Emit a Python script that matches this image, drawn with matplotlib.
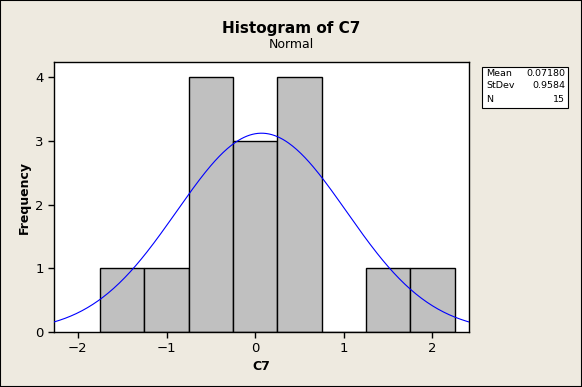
import numpy as np
import matplotlib
matplotlib.use("Agg")
import matplotlib.pyplot as plt

# histogram bins (C7)
bin_edges = [-1.75, -1.25, -0.75, -0.25, 0.25, 0.75, 1.25, 1.75, 2.25]
counts = [1, 1, 4, 3, 4, 0, 1, 1]
mean = 0.07180
stdev = 0.9584
n = 15

bg = "#EEEAE0"

fig = plt.figure(figsize=(5.82, 3.87), dpi=100, facecolor=bg)
fig.patches.append(plt.Rectangle((0, 0), 1, 1, transform=fig.transFigure,
                                 fill=False, edgecolor="black", linewidth=1.5))
ax = fig.add_axes([0.0928, 0.1421, 0.7125, 0.6977])
ax.set_facecolor("white")

widths = np.diff(bin_edges)
ax.bar(bin_edges[:-1], counts, width=widths, align="edge",
       color="#C0C0C0", edgecolor="black", linewidth=1.0, zorder=2)

# fitted normal curve scaled to counts
xs = np.linspace(-2.27, 2.41, 300)
bw = widths[0]
ys = n * bw / (stdev * np.sqrt(2 * np.pi)) * np.exp(-0.5 * ((xs - mean) / stdev) ** 2)
ax.plot(xs, ys, color="blue", linewidth=0.8, zorder=3)

ax.set_xlim(-2.27, 2.41)
ax.set_ylim(0, 4.24)
ax.set_xticks([-2, -1, 0, 1, 2])
ax.set_yticks([0, 1, 2, 3, 4])
ax.tick_params(direction="out", length=4, labelsize=9.5, width=1)
for s in ax.spines.values():
    s.set_linewidth(1.0)

ax.set_xlabel("C7", fontsize=9, fontweight="bold", labelpad=3)
ax.set_ylabel("Frequency", fontsize=9, fontweight="bold", labelpad=3)

fig.text(0.5, 0.927, "Histogram of C7", ha="center", va="center",
         fontsize=11, fontweight="bold")
fig.text(0.5, 0.886, "Normal", ha="center", va="center", fontsize=9)

# stats box
box = plt.Rectangle((482 / 582, 1 - 108 / 387), 86 / 582, 41 / 387,
                    transform=fig.transFigure, facecolor="white",
                    edgecolor="black", linewidth=0.8)
fig.patches.append(box)
labels = ["Mean", "StDev", "N"]
values = ["0.07180", "0.9584", str(n)]
for i, (lab, val) in enumerate(zip(labels, values)):
    y = 1 - (73 + i * 13) / 387
    fig.text(486 / 582, y, lab, ha="left", va="center", fontsize=6.8)
    fig.text(565 / 582, y, val, ha="right", va="center", fontsize=6.8)

fig.savefig("out.png", dpi=100, facecolor=bg)
